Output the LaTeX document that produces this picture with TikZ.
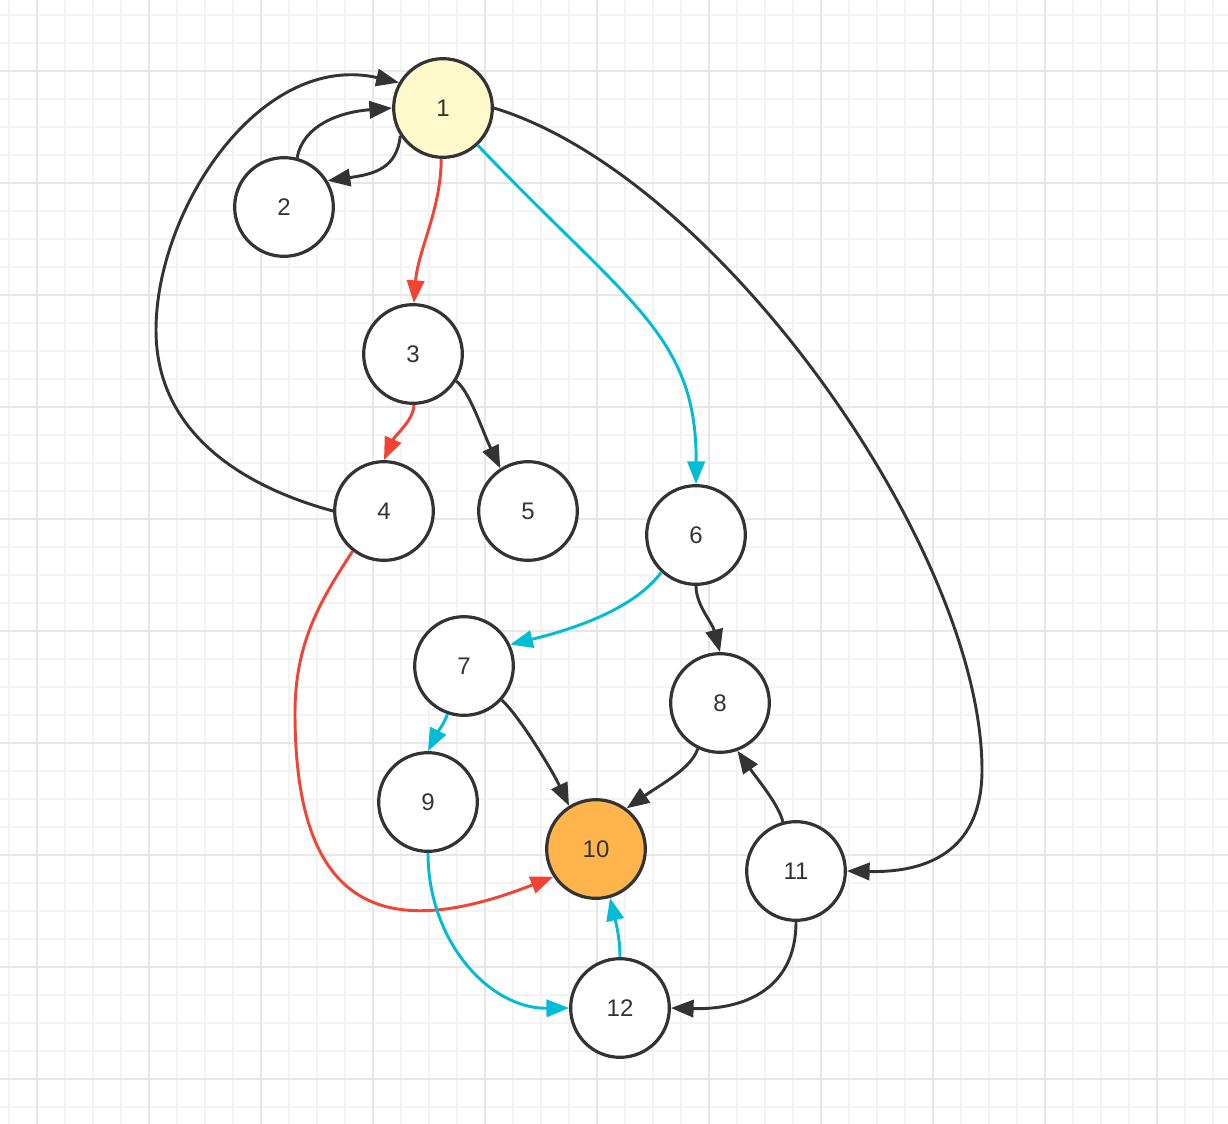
\documentclass[tikz,border=0pt]{standalone}
\usepackage{fontspec}
\setmainfont{Liberation Sans}
\usetikzlibrary{arrows.meta}

\definecolor{inkgrey}{RGB}{51,51,51}
\definecolor{pathred}{RGB}{242,67,52}
\definecolor{pathcyan}{RGB}{0,188,212}
\definecolor{startfill}{RGB}{255,249,204}
\definecolor{goalfill}{RGB}{255,181,76}
\definecolor{minorline}{RGB}{243,243,243}
\definecolor{majorline}{RGB}{231,231,231}

\tikzset{every picture/.style={line width=0.75pt}}

\begin{document}
\begin{tikzpicture}[x=0.75pt,y=0.75pt,yscale=-1,xscale=1,
  vertex/.style={circle, draw=inkgrey, line width=2.4pt, fill=white, minimum size=74pt, inner sep=0pt, text=inkgrey, font=\fontsize{18pt}{21pt}\selectfont},
  link/.style={draw=inkgrey, line width=2.2pt, -{Triangle[length=17pt,width=13pt]}},
  redlink/.style={link, draw=pathred, -{Triangle[length=17pt,width=13pt,fill=pathred]}},
  cyanlink/.style={link, draw=pathcyan, -{Triangle[length=17pt,width=13pt,fill=pathcyan]}},
  minorgrid/.style={draw=minorline, line width=1.1pt},
  majorgrid/.style={draw=majorline, line width=1.5pt}]

%Background and grid
\fill[white] (0,0) rectangle (1228,1124);
\useasboundingbox (0,0) rectangle (1228,1124);
\foreach \gx in {9,37,...,1228} \draw[minorgrid] (\gx,0) -- (\gx,1124);
\foreach \gy in {15,43,...,1124} \draw[minorgrid] (0,\gy) -- (1228,\gy);
\foreach \gx in {37,149,...,1228} \draw[majorgrid] (\gx,0) -- (\gx,1124);
\foreach \gy in {71,183,...,1124} \draw[majorgrid] (0,\gy) -- (1228,\gy);

%Shape: Circle nodes
\node[vertex, fill=startfill] (n1) at (443,108) {1};
\node[vertex] (n2) at (284,207) {2};
\node[vertex] (n3) at (413,354) {3};
\node[vertex] (n4) at (384,511) {4};
\node[vertex] (n5) at (528,511) {5};
\node[vertex] (n6) at (696,535) {6};
\node[vertex] (n7) at (464,666) {7};
\node[vertex] (n8) at (720,703) {8};
\node[vertex] (n9) at (428,802) {9};
\node[vertex, fill=goalfill] (n10) at (596,849) {10};
\node[vertex] (n11) at (796,871) {11};
\node[vertex] (n12) at (620,1008) {12};

%Curve Lines
\draw[link] (n4.180) .. controls (255,490) and (156,440) .. (156,330) .. controls (156,210) and (260,51) .. (n1.150);
\draw[link] (n2.75) .. controls (303,125) and (340,112) .. (n1.180);
\draw[link] (n1.213) .. controls (397,168) and (375,174) .. (n2.31);
\draw[redlink] (n1.268) .. controls (441,210) and (418,250) .. (n3.89);
\draw[redlink] (n3.271) .. controls (414,420) and (395,435) .. (n4.90);
\draw[link] (n3.328) .. controls (470,392) and (482,430) .. (n5.123);
\draw[cyanlink] (n1.313) .. controls (628,303) and (697,335) .. (n6.90);
\draw[link] (n1.0) .. controls (718,176) and (982,550) .. (982,770) .. controls (982,845) and (935,873) .. (n11.0);
\draw[redlink] (n4.232) .. controls (320,601) and (295,643) .. (295,713) .. controls (295,913) and (387,942) .. (n10.213);
\draw[cyanlink] (n6.227) .. controls (638,604) and (587,626) .. (n7.25);
\draw[link] (n6.270) .. controls (696,605) and (712,622) .. (n8.90);
\draw[cyanlink] (n7.251) .. controls (445,722) and (436,735) .. (n9.90);
\draw[link] (n7.318) .. controls (520,717) and (552,770) .. (n10.122);
\draw[link] (n8.244) .. controls (692,768) and (660,785) .. (n10.53);
\draw[link] (n11.105) .. controls (779,805) and (758,780) .. (n8.290);
\draw[link] (n11.270) .. controls (796,987) and (747,1010) .. (n12.0);
\draw[cyanlink] (n9.270) .. controls (428,942) and (490,1009) .. (n12.180);
\draw[cyanlink] (n12.90) .. controls (620,935) and (614,915) .. (n10.286);

\end{tikzpicture}
\end{document}
